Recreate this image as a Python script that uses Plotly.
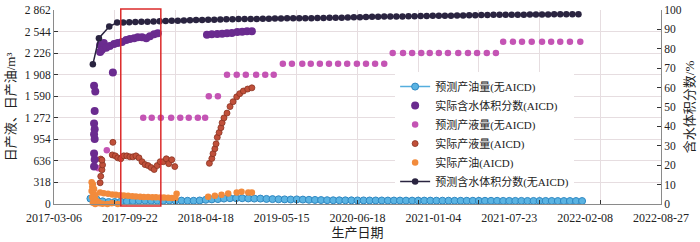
import plotly.graph_objects as go

# ---------------- data ----------------
x_tick_labels = ["2017-03-06", "2017-09-22", "2018-04-18", "2019-05-15", "2020-06-18",
                 "2021-01-04", "2021-07-23", "2022-02-08", "2022-08-27"]
x_label_pos = [0, 1.25, 2.5, 3.75, 5, 6.25, 7.5, 8.75, 10]
x_grid_pos = [0, 1, 2, 3, 4, 5, 6, 7, 8, 9, 10]

y_left_ticks = [0, 318, 636, 954, 1272, 1590, 1908, 2226, 2544, 2862]
y_left_text = ["0", "318", "636", "954", "1 272", "1 590", "1 908", "2 226", "2 544", "2 862"]

# 预测产油量(无AICD)  (m3, left axis)
oil_pred_x = [0.6, 0.7, 0.8, 0.9,
              1.0, 1.1, 1.2, 1.3, 1.4, 1.5, 1.6, 1.7, 1.8, 1.9,
              2.0, 2.1, 2.2, 2.3, 2.4, 2.5, 2.6, 2.7, 2.8, 2.9,
              3.0, 3.1, 3.2, 3.3, 3.4, 3.5, 3.6, 3.7, 3.8, 3.9,
              4.0, 4.1, 4.2, 4.3, 4.4, 4.5, 4.6, 4.7, 4.8, 4.9,
              5.0, 5.1, 5.2, 5.3, 5.4, 5.5, 5.6, 5.7, 5.8, 5.9,
              6.0, 6.1, 6.2, 6.3, 6.4, 6.5, 6.6, 6.7, 6.8, 6.9,
              7.0, 7.1, 7.2, 7.3, 7.4, 7.5, 7.6, 7.7, 7.8, 7.9,
              8.0, 8.1, 8.2, 8.3, 8.4, 8.5, 8.6, 8.7]
oil_pred_y = [80, 70, 40, 30,
              30, 35, 40, 45, 50, 50, 48, 50, 50, 52,
              50, 50, 48, 48, 52, 62, 68, 72, 80, 85,
              86, 85, 82, 80, 80, 75, 72, 70, 68, 66,
              68, 65, 62, 60, 58, 56, 55, 55, 54, 54,
              53, 53, 52, 52, 52, 51, 51, 51, 50, 50,
              50, 50, 50, 49, 49, 49, 48, 48, 48, 48,
              47, 47, 47, 47, 46, 46, 46, 46, 45, 45,
              45, 45, 45, 44, 44, 44, 44, 44]

# 实际含水体积分数(AICD)  (%, right axis)
wc_act_x = [0.66, 0.68, 0.67, 0.66, 0.67, 0.66, 0.67, 0.66, 0.67, 0.66,
            0.76, 0.79, 0.82, 0.86, 0.76, 0.97,
            0.92, 0.99, 1.05, 1.12, 1.19, 1.25, 1.32, 1.38, 1.45, 1.52, 1.58, 1.65, 1.71,
            2.52, 2.60, 2.69, 2.77, 2.85, 2.93, 3.02, 3.10, 3.18, 3.26]
wc_act_y = [61, 58, 48, 41.5, 38.5, 36, 33.5, 26, 23, 19.3,
            82, 79.5, 83, 80.5, 78.4, 67.8,
            81.5, 82.5, 83, 83.5, 84.5, 85, 85.5, 86, 86, 85.5, 86.5, 87.5, 88,
            87.3, 87.5, 87.6, 87.8, 88.0, 88.2, 88.6, 88.8, 89.0, 89.1]

# 预测产液量(无AICD)  (m3, left axis)
liq_pred_x = [0.73, 0.87,
              1.47, 1.61, 1.76, 1.93, 2.08, 2.22, 2.37, 2.49,
              2.55, 2.70,
              2.85, 3.01, 3.16, 3.33, 3.48, 3.62,
              3.77, 3.92, 4.09, 4.23, 4.38, 4.53, 4.68, 4.83, 4.99, 5.14, 5.29, 5.44,
              5.58, 5.75, 5.90, 6.05, 6.19, 6.34, 6.49, 6.66, 6.82, 6.97, 7.13, 7.28,
              7.40, 7.56, 7.71, 7.87, 8.04, 8.19, 8.34, 8.50, 8.67]
liq_pred_y = [528, 792,
              1272, 1272, 1272, 1272, 1272, 1272, 1272, 1272,
              1590, 1590,
              1908, 1908, 1908, 1908, 1908, 1908,
              2070, 2070, 2070, 2070, 2070, 2070, 2070, 2070, 2070, 2070, 2070, 2070,
              2226, 2226, 2226, 2226, 2226, 2226, 2226, 2226, 2226, 2226, 2226, 2226,
              2393, 2393, 2393, 2393, 2393, 2393, 2393, 2393, 2393]

# 实际产液量(AICD)  (m3, left axis)
liq_act_x = [0.76, 0.77, 0.79, 0.80, 0.77, 0.79, 0.97,
             0.96, 1.01, 1.05, 1.10, 1.15, 1.20, 1.25, 1.30, 1.35, 1.40, 1.45,
             1.50, 1.55, 1.60, 1.65, 1.70, 1.75, 1.80, 1.85, 1.89, 1.94, 1.99,
             2.56, 2.60, 2.62, 2.65, 2.67, 2.69, 2.72, 2.75, 2.77, 2.80, 2.85,
             2.90, 2.95, 3.01, 3.06, 3.12, 3.19, 3.26]
liq_act_y = [313, 409, 505, 577, 663, 648, 910,
             724, 710, 681, 667, 710, 710, 696, 696, 710, 681, 624,
             581, 567, 538, 509, 567, 624, 624, 667, 595, 653, 552,
             600, 671, 743, 815, 887, 983, 1054, 1126, 1198, 1270, 1341,
             1437, 1509, 1581, 1628, 1667, 1696, 1714]

# 实际产油(AICD)  (m3, left axis)
oil_act_x = [0.62, 0.64, 0.63, 0.66, 0.62, 0.65, 0.68, 0.63, 0.66, 0.70, 0.64, 0.68, 0.73, 0.75,
             0.80, 0.88, 0.95, 1.05,
             0.76, 0.82, 0.89, 0.96, 1.02, 1.09, 1.15, 1.22, 1.29, 1.35, 1.42, 1.48,
             1.55, 1.62, 1.68, 1.75, 1.81, 1.88, 1.94, 2.00, 2.02,
             2.54, 2.65, 2.76, 2.87, 3.01, 3.09, 3.20, 3.26]
oil_act_y = [320, 290, 255, 220, 190, 160, 130, 100, 70, 45, 20, 0, 30, 10,
             5, 0, 10, 0,
             170, 160, 150, 140, 135, 130, 125, 120, 115, 110, 108, 105,
             102, 100, 98, 95, 95, 92, 90, 88, 150,
             108, 122, 136, 155, 170, 180, 170, 170]

# 预测含水体积分数(无AICD)  (%, right axis)
wc_pred_x = [0.64, 0.74, 0.91,
             1.04, 1.14, 1.24, 1.34, 1.44, 1.54, 1.64, 1.74, 1.84, 1.94,
             2.04, 2.14, 2.24, 2.34, 2.44, 2.54, 2.64, 2.74, 2.84, 2.94,
             3.04, 3.14, 3.24, 3.34, 3.44, 3.54, 3.64, 3.74, 3.84, 3.94,
             4.04, 4.14, 4.24, 4.34, 4.44, 4.54, 4.64, 4.74, 4.84, 4.94,
             5.04, 5.14, 5.24, 5.34, 5.44, 5.54, 5.64, 5.74, 5.84, 5.94,
             6.04, 6.14, 6.24, 6.34, 6.44, 6.54, 6.64, 6.74, 6.84, 6.94,
             7.04, 7.14, 7.24, 7.34, 7.44, 7.54, 7.64, 7.74, 7.84, 7.94,
             8.04, 8.14, 8.24, 8.34, 8.44, 8.54, 8.64]
wc_pred_y = [72, 85.5, 91.5,
             93.5, 93.6, 93.7, 93.8, 93.9, 94.0, 94.1, 94.2, 94.3, 94.5,
             94.5, 94.6, 94.7, 94.8, 94.9, 95.0, 95.0, 95.1, 95.2, 95.2,
             95.3, 95.3, 95.4, 95.4, 95.5, 95.5, 95.6, 95.6, 95.7, 95.7,
             95.8, 95.8, 95.8, 95.9, 95.9, 96.0, 96.0, 96.0, 96.1, 96.2,
             96.3, 96.4, 96.5, 96.5, 96.6, 96.6, 96.7, 96.7, 96.8, 96.8,
             96.9, 96.9, 97.0, 97.0, 97.1, 97.1, 97.2, 97.2, 97.3, 97.3,
             97.4, 97.4, 97.5, 97.5, 97.5, 97.6, 97.6, 97.6, 97.7, 97.7,
             97.7, 97.7, 97.8, 97.8, 97.8, 97.8, 97.8]

# highlighted window (red frame)
highlight_x = [1.10, 1.76]

# ---------------- style ----------------
FONT = "Liberation Serif, Noto Sans CJK SC, serif"
GRID = "#e6dde0"
AX = "#8a8a8a"

fig = go.Figure()

fig.add_trace(go.Scatter(
    x=oil_pred_x, y=oil_pred_y, name="预测产油量(无AICD)", mode="lines+markers",
    line=dict(color="#55aede", width=1.5),
    marker=dict(size=7, color="#5ab3e2", line=dict(width=1, color="#2f88c2")),
    xaxis="x", yaxis="y", cliponaxis=False))

fig.add_trace(go.Scatter(
    x=wc_act_x, y=wc_act_y, name="实际含水体积分数(AICD)", mode="markers",
    marker=dict(size=8, color="#6a2b8f"),
    xaxis="x", yaxis="y2", cliponaxis=False))

fig.add_trace(go.Scatter(
    x=liq_pred_x, y=liq_pred_y, name="预测产液量(无AICD)", mode="markers",
    marker=dict(size=6.5, color="#c454b4"),
    xaxis="x", yaxis="y", cliponaxis=False))

fig.add_trace(go.Scatter(
    x=liq_act_x, y=liq_act_y, name="实际产液量(AICD)", mode="markers",
    marker=dict(size=6, color="#c0503a", line=dict(width=0.8, color="#8a3422")),
    xaxis="x", yaxis="y", cliponaxis=False))

fig.add_trace(go.Scatter(
    x=oil_act_x, y=oil_act_y, name="实际产油(AICD)", mode="markers",
    marker=dict(size=6.5, color="#f28b3c"),
    xaxis="x", yaxis="y", cliponaxis=False))

fig.add_trace(go.Scatter(
    x=wc_pred_x, y=wc_pred_y, name="预测含水体积分数(无AICD)", mode="lines+markers",
    line=dict(color="#2a2440", width=1.5),
    marker=dict(size=6.5, color="#2a2440"),
    xaxis="x", yaxis="y2", cliponaxis=False))

# carrier for the labelled date axis
fig.add_trace(go.Scatter(x=[None], y=[None], xaxis="x2", yaxis="y",
                         showlegend=False, hoverinfo="skip"))

fig.add_shape(type="rect", xref="x", yref="paper",
              x0=highlight_x[0], x1=highlight_x[1], y0=-0.01, y1=1.005,
              line=dict(color="#dc2b2b", width=1.5), fillcolor="rgba(0,0,0,0)")

fig.update_layout(
    width=700, height=242,
    margin=dict(l=54, r=39, t=4, b=38),
    paper_bgcolor="white", plot_bgcolor="white",
    font=dict(family=FONT, size=12, color="#222222"),
    legend=dict(x=0.562, y=0.68, xanchor="left", yanchor="top",
                bgcolor="white", borderwidth=0, tracegroupgap=0,
                font=dict(size=11, color="#222222")),
    xaxis=dict(range=[0, 10], tickmode="array", tickvals=x_grid_pos,
               showticklabels=False, showgrid=True, gridcolor=GRID, gridwidth=1,
               ticks="inside", ticklen=4, tickcolor="#333333",
               showline=True, linecolor=AX, linewidth=1, zeroline=False),
    xaxis2=dict(overlaying="x", anchor="y", side="bottom", range=[0, 10],
                tickmode="array", tickvals=x_label_pos, ticktext=x_tick_labels,
                showgrid=False, ticks="", showline=False, zeroline=False,
                tickfont=dict(size=12), ticklabeloverflow="allow",
                ticklabelstandoff=5,
                title=dict(text="生产日期", font=dict(size=13), standoff=2)),
    yaxis=dict(range=[0, 2862], tickmode="array", tickvals=y_left_ticks, ticktext=y_left_text,
               showgrid=True, gridcolor=GRID, gridwidth=1,
               ticks="inside", ticklen=4, tickcolor="#333333",
               showline=True, linecolor=AX, linewidth=1, zeroline=False,
               tickfont=dict(size=11.5), ticklabeloverflow="allow",
               title=dict(text="日产液、日产油/m³", font=dict(size=13), standoff=6)),
    yaxis2=dict(overlaying="y", side="right", anchor="x", range=[0, 100],
                tickmode="linear", tick0=0, dtick=10,
                showgrid=False, ticks="inside", ticklen=4, tickcolor="#333333",
                showline=True, linecolor=AX, linewidth=1, zeroline=False,
                tickfont=dict(size=11.5), ticklabeloverflow="allow",
                title=dict(text="含水体积分数/%", font=dict(size=13), standoff=4)),
)

fig.write_html("out.html", config={"displayModeBar": False},
               post_script="document.body.style.margin='0';document.body.style.overflow='hidden';")
